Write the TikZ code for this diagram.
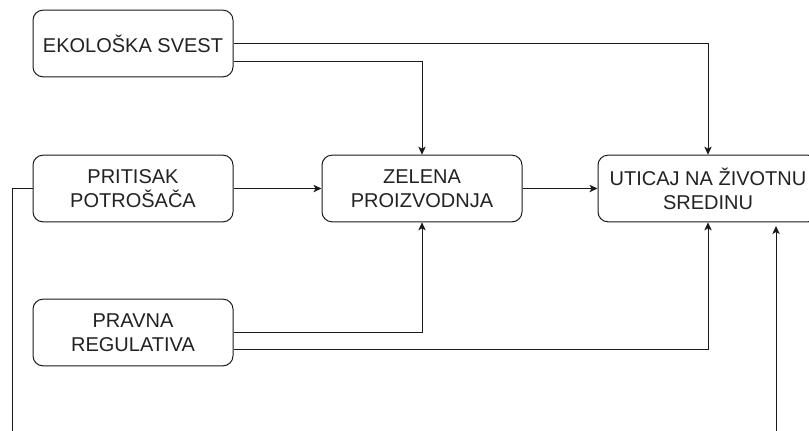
\documentclass[tikz,border=0pt]{standalone}
\usepackage{fontspec}
\setmainfont{Liberation Sans}
\usetikzlibrary{arrows.meta}

\definecolor{ink}{HTML}{1A1A1A}
\definecolor{txt}{HTML}{222222}

\tikzset{
  box/.style={draw=ink, line width=0.75pt, rounded corners=7.5pt, fill=white,
    minimum width=150pt, minimum height=50pt, inner sep=2pt,
    align=center, text=txt, font=\fontsize{15pt}{18pt}\selectfont},
  link/.style={draw=ink, line width=0.75pt},
  arr/.style={link, -{Stealth[length=6pt, width=5.5pt, inset=1.5pt]}}
}

\begin{document}
\begin{tikzpicture}[x=0.75pt, y=-0.75pt]
  \clip (0,0) rectangle (809,430);
  \fill[white] (0,0) rectangle (809,430);

  % factor boxes
  \node[box] (eko) at (133,43.5) {EKOLOŠKA SVEST};
  \node[box] (pri) at (133,188.5) {PRITISAK\\POTROŠAČA};
  \node[box] (pra) at (133,332.5) {PRAVNA\\REGULATIVA};
  \node[box] (zel) at (422,188.5) {ZELENA\\PROIZVODNJA};
  \node[box, minimum width=165pt] (uti) at (708,188.5) {UTICAJ NA ŽIVOTNU\\SREDINU};

  % loose ends at the lower border
  \coordinate (pbot) at (12,435);
  \coordinate (rbot) at (776,435);
  \coordinate (rtip) at (776,226);

  % connectors
  \draw[arr] (eko.east |- 0,43) -| (uti.north);
  \draw[arr] (eko.east |- 0,61) -| (zel.north);
  \draw[arr] (pri.east) -- (zel.west);
  \draw[arr] (zel.east) -- (uti.west);
  \draw[arr] (pra.east |- 0,332) -| (zel.south);
  \draw[arr] (pra.east |- 0,349) -| (uti.south);
  \draw[link] (pri.west) -| (pbot);
  \draw[arr] (rbot) -- (rtip);
\end{tikzpicture}
\end{document}
